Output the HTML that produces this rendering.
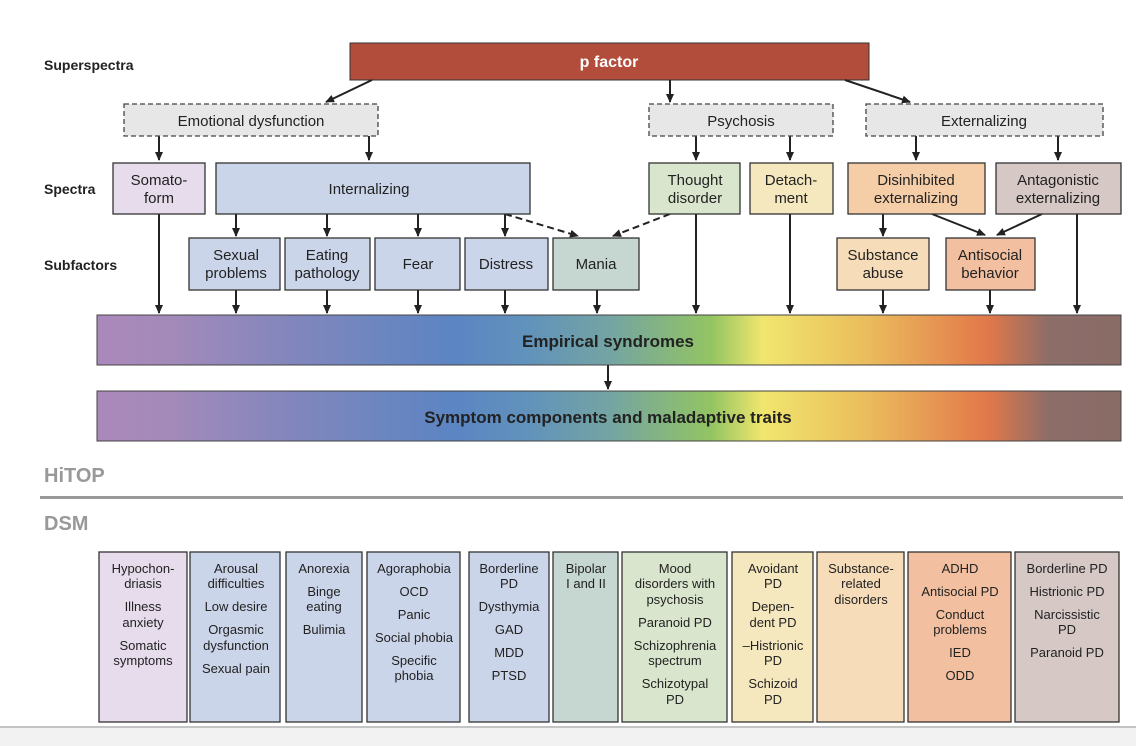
<!DOCTYPE html>
<html><head><meta charset="utf-8"><style>
html,body{margin:0;padding:0;background:#fff;}
svg{display:block;font-family:"Liberation Sans",sans-serif;}
</style></head><body>
<svg width="1136" height="746" viewBox="0 0 1136 746" xmlns="http://www.w3.org/2000/svg">
<defs>
<marker id="a" markerWidth="10" markerHeight="10" refX="8" refY="5" orient="auto" markerUnits="userSpaceOnUse"><path d="M0,1 L9,5 L0,9 z" fill="#222"/></marker>
<linearGradient id="g" x1="0" x2="1" y1="0" y2="0">
<stop offset="0" stop-color="#ab88bb"/>
<stop offset="0.07" stop-color="#a38ab9"/>
<stop offset="0.2" stop-color="#7f86bd"/>
<stop offset="0.35" stop-color="#5b85c3"/>
<stop offset="0.42" stop-color="#6192bb"/>
<stop offset="0.5" stop-color="#74a4a3"/>
<stop offset="0.6" stop-color="#93c462"/>
<stop offset="0.65" stop-color="#f0e66e"/>
<stop offset="0.75" stop-color="#ebbd5c"/>
<stop offset="0.87" stop-color="#e2784a"/>
<stop offset="0.93" stop-color="#8c6d68"/>
<stop offset="1" stop-color="#8a6c67"/>
</linearGradient>
</defs>
<g font-size="14" font-weight="bold" fill="#222">
<text x="44" y="70">Superspectra</text>
<text x="44" y="194">Spectra</text>
<text x="44" y="270">Subfactors</text>
</g>
<rect x="350" y="43" width="519" height="37" fill="#b34d3b" stroke="#333"/>
<text x="609" y="67" text-anchor="middle" fill="#fff" font-weight="bold" font-size="16">p factor</text>
<g stroke="#222" stroke-width="2" fill="none" marker-end="url(#a)">
<line x1="372" y1="80" x2="326" y2="102"/>
<line x1="670" y1="80" x2="670" y2="102"/>
<line x1="845" y1="80" x2="910" y2="102"/>
<line x1="159" y1="136" x2="159" y2="160"/>
<line x1="369" y1="136" x2="369" y2="160"/>
<line x1="696" y1="136" x2="696" y2="160"/>
<line x1="790" y1="136" x2="790" y2="160"/>
<line x1="916" y1="136" x2="916" y2="160"/>
<line x1="1058" y1="136" x2="1058" y2="160"/>
<line x1="236" y1="214" x2="236" y2="236"/>
<line x1="327" y1="214" x2="327" y2="236"/>
<line x1="418" y1="214" x2="418" y2="236"/>
<line x1="505" y1="214" x2="505" y2="236"/>
<line x1="505" y1="214" x2="578" y2="236" stroke-dasharray="7,4"/>
<line x1="670" y1="214" x2="613" y2="236" stroke-dasharray="7,4"/>
<line x1="883" y1="214" x2="883" y2="236"/>
<line x1="932" y1="214" x2="985" y2="235"/>
<line x1="1042" y1="214" x2="997" y2="235"/>
<line x1="159" y1="214" x2="159" y2="313"/>
<line x1="236" y1="290" x2="236" y2="313"/>
<line x1="327" y1="290" x2="327" y2="313"/>
<line x1="418" y1="290" x2="418" y2="313"/>
<line x1="505" y1="290" x2="505" y2="313"/>
<line x1="597" y1="290" x2="597" y2="313"/>
<line x1="696" y1="214" x2="696" y2="313"/>
<line x1="790" y1="214" x2="790" y2="313"/>
<line x1="883" y1="290" x2="883" y2="313"/>
<line x1="990" y1="290" x2="990" y2="313"/>
<line x1="1077" y1="214" x2="1077" y2="313"/>
<line x1="608" y1="365" x2="608" y2="389"/>
</g>
<g stroke="#444" stroke-width="1.3" stroke-dasharray="5,3" fill="#e7e7e7">
<rect x="124" y="104" width="254" height="32"/>
<rect x="649" y="104" width="184" height="32"/>
<rect x="866" y="104" width="237" height="32"/>
</g>
<g font-size="15" fill="#222" text-anchor="middle">
<text x="251" y="126">Emotional dysfunction</text>
<text x="741" y="126">Psychosis</text>
<text x="984" y="126">Externalizing</text>
</g>
<g stroke="#333" stroke-width="1.3">
<rect x="113" y="163" width="92" height="51" fill="#e6dcec"/>
<rect x="216" y="163" width="314" height="51" fill="#cbd5ea"/>
<rect x="649" y="163" width="91" height="51" fill="#d9e6cd"/>
<rect x="750" y="163" width="83" height="51" fill="#f5e8bf"/>
<rect x="848" y="163" width="137" height="51" fill="#f5cea8"/>
<rect x="996" y="163" width="125" height="51" fill="#d5c8c5"/>
<rect x="189" y="238" width="91" height="52" fill="#cbd5ea"/>
<rect x="285" y="238" width="85" height="52" fill="#cbd5ea"/>
<rect x="375" y="238" width="85" height="52" fill="#cbd5ea"/>
<rect x="465" y="238" width="83" height="52" fill="#cbd5ea"/>
<rect x="553" y="238" width="86" height="52" fill="#c6d6d0"/>
<rect x="837" y="238" width="92" height="52" fill="#f7dcb9"/>
<rect x="946" y="238" width="89" height="52" fill="#f2c0a0"/>
</g>
<g font-size="15" fill="#222" text-anchor="middle">
<text x="159" y="185">Somato-</text><text x="159" y="203">form</text>
<text x="369" y="194">Internalizing</text>
<text x="695" y="185">Thought</text><text x="695" y="203">disorder</text>
<text x="791" y="185">Detach-</text><text x="791" y="203">ment</text>
<text x="916" y="185">Disinhibited</text><text x="916" y="203">externalizing</text>
<text x="1058" y="185">Antagonistic</text><text x="1058" y="203">externalizing</text>
<text x="236" y="260">Sexual</text><text x="236" y="278">problems</text>
<text x="327" y="260">Eating</text><text x="327" y="278">pathology</text>
<text x="418" y="269">Fear</text>
<text x="506" y="269">Distress</text>
<text x="596" y="269">Mania</text>
<text x="883" y="260">Substance</text><text x="883" y="278">abuse</text>
<text x="990" y="260">Antisocial</text><text x="990" y="278">behavior</text>
</g>
<rect x="97" y="315" width="1024" height="50" fill="url(#g)" stroke="#444"/>
<rect x="97" y="391" width="1024" height="50" fill="url(#g)" stroke="#444"/>
<g font-size="17" font-weight="bold" fill="#222" text-anchor="middle">
<text x="608" y="347">Empirical syndromes</text>
<text x="608" y="423">Symptom components and maladaptive traits</text>
</g>
<text x="44" y="482" font-size="20" font-weight="bold" fill="#999">HiTOP</text>
<rect x="40" y="496" width="1083" height="3" fill="#999"/>
<text x="44" y="530" font-size="20" font-weight="bold" fill="#999">DSM</text>
<g stroke="#333" stroke-width="1.3">
<rect x="99" y="552" width="88" height="170" fill="#e6dcec"/>
<rect x="190" y="552" width="90" height="170" fill="#cbd5ea"/>
<rect x="286" y="552" width="76" height="170" fill="#cbd5ea"/>
<rect x="367" y="552" width="93" height="170" fill="#cbd5ea"/>
<rect x="469" y="552" width="80" height="170" fill="#cbd5ea"/>
<rect x="553" y="552" width="65" height="170" fill="#c6d6d0"/>
<rect x="622" y="552" width="105" height="170" fill="#d9e6cd"/>
<rect x="732" y="552" width="81" height="170" fill="#f5e8bf"/>
<rect x="817" y="552" width="87" height="170" fill="#f7dcb9"/>
<rect x="908" y="552" width="103" height="170" fill="#f2c0a0"/>
<rect x="1015" y="552" width="104" height="170" fill="#d5c8c5"/>
</g>
<g font-size="13" fill="#222" text-anchor="middle">
<text x="143" y="573">Hypochon-</text><text x="143" y="588">driasis</text><text x="143" y="611">Illness</text><text x="143" y="627">anxiety</text><text x="143" y="650">Somatic</text><text x="143" y="665">symptoms</text>
<text x="236" y="573">Arousal</text><text x="236" y="588">difficulties</text><text x="236" y="611">Low desire</text><text x="236" y="634">Orgasmic</text><text x="236" y="650">dysfunction</text><text x="236" y="673">Sexual pain</text>
<text x="324" y="573">Anorexia</text><text x="324" y="596">Binge</text><text x="324" y="611">eating</text><text x="324" y="634">Bulimia</text>
<text x="414" y="573">Agoraphobia</text><text x="414" y="596">OCD</text><text x="414" y="619">Panic</text><text x="414" y="642">Social phobia</text><text x="414" y="665">Specific</text><text x="414" y="680">phobia</text>
<text x="509" y="573">Borderline</text><text x="509" y="588">PD</text><text x="509" y="611">Dysthymia</text><text x="509" y="634">GAD</text><text x="509" y="657">MDD</text><text x="509" y="680">PTSD</text>
<text x="586" y="573">Bipolar</text><text x="586" y="588">I and II</text>
<text x="675" y="573">Mood</text><text x="675" y="588">disorders with</text><text x="675" y="604">psychosis</text><text x="675" y="627">Paranoid PD</text><text x="675" y="650">Schizophrenia</text><text x="675" y="665">spectrum</text><text x="675" y="688">Schizotypal</text><text x="675" y="704">PD</text>
<text x="773" y="573">Avoidant</text><text x="773" y="588">PD</text><text x="773" y="611">Depen-</text><text x="773" y="627">dent PD</text><text x="773" y="650">–Histrionic</text><text x="773" y="665">PD</text><text x="773" y="688">Schizoid</text><text x="773" y="704">PD</text>
<text x="861" y="573">Substance-</text><text x="861" y="588">related</text><text x="861" y="604">disorders</text>
<text x="960" y="573">ADHD</text><text x="960" y="596">Antisocial PD</text><text x="960" y="619">Conduct</text><text x="960" y="634">problems</text><text x="960" y="657">IED</text><text x="960" y="680">ODD</text>
<text x="1067" y="573">Borderline PD</text><text x="1067" y="596">Histrionic PD</text><text x="1067" y="619">Narcissistic</text><text x="1067" y="634">PD</text><text x="1067" y="657">Paranoid PD</text>
</g>
<rect x="0" y="726" width="1136" height="2" fill="#c4c4c4"/>
<rect x="0" y="728" width="1136" height="18" fill="#f2f2f2"/>
</svg>
</body></html>
